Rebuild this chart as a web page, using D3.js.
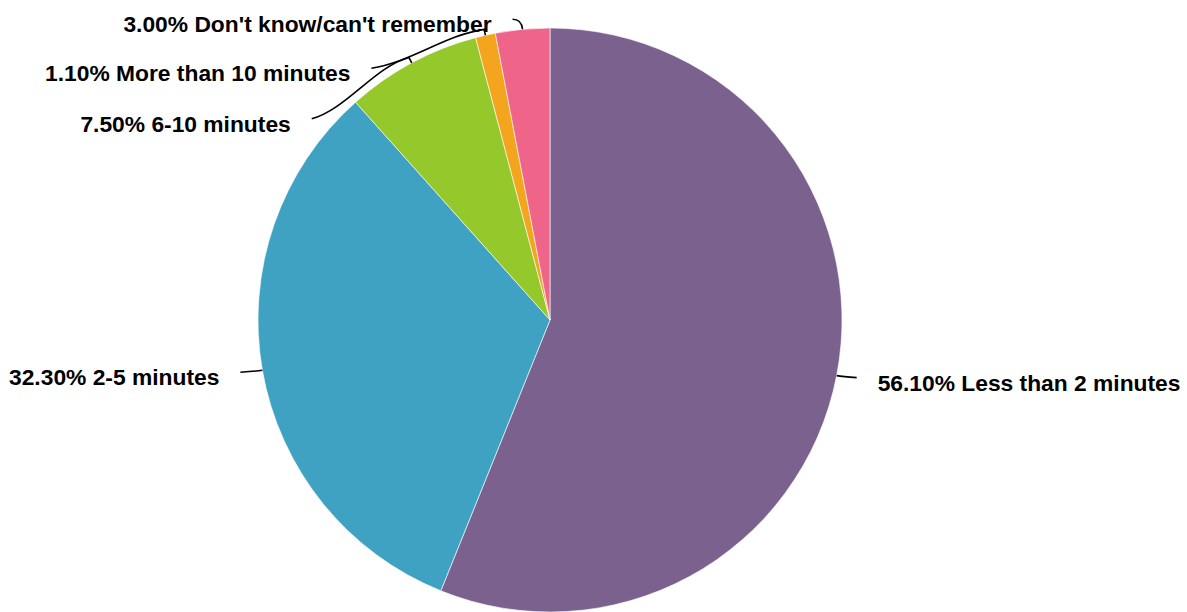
<!DOCTYPE html>
<html>
<head>
<meta charset="utf-8">
<script src="https://cdn.jsdelivr.net/npm/d3@7"></script>
<style>
  html, body { margin: 0; padding: 0; background: #fff; }
  svg { display: block; }
  .lbl { font-family: "Liberation Sans", Arial, sans-serif; font-weight: bold; font-size: 22.8px; fill: #000; }
</style>
</head>
<body>
<svg id="chart" width="1187" height="612"></svg>
<script>
// Time taken — share of respondents
const categories = ["Less than 2 minutes", "2-5 minutes", "6-10 minutes", "More than 10 minutes", "Don't know/can't remember"];
const values = [56.1, 32.3, 7.5, 1.1, 3.0];
const colors = ["#7b618d", "#40a2c2", "#95c82a", "#f3a51d", "#ef6589"];

// Where each leader line ends, relative to its slice's anchor on the rim
const labelOffsets = [[20, 2], [-22, 2], [-100, 56], [-114, 33], [-10, -10]];

const width = 1187, height = 612;
const cx = 550, cy = 320, radius = 292;

const svg = d3.select("#chart");
const g = svg.append("g").attr("transform", `translate(${cx},${cy})`);

const pie = d3.pie().sort(null).value(d => d.value);
const arcs = pie(categories.map((c, i) => ({ name: c, value: values[i], color: colors[i] })));
const arc = d3.arc().innerRadius(0).outerRadius(radius);

g.selectAll("path.slice")
  .data(arcs)
  .join("path")
  .attr("class", "slice")
  .attr("d", arc)
  .attr("fill", d => d.data.color)
  .attr("stroke", "#fff")
  .attr("stroke-width", 0.6);

// Leader lines: short radial tick off the rim, then a smooth curve to the label
function polar(a, r) { return [r * Math.sin(a), -r * Math.cos(a)]; }

arcs.forEach((d, i) => {
  const mid = (d.startAngle + d.endAngle) / 2;
  const A = polar(mid, radius);
  const B = polar(mid, radius + 6);
  const L = [A[0] + labelOffsets[i][0], A[1] + labelOffsets[i][1]];
  const p = d3.path();
  p.moveTo(A[0], A[1]);
  const dist = Math.hypot(L[0] - A[0], L[1] - A[1]);
  if (dist > 40) {
    p.lineTo(B[0], B[1]);
    p.bezierCurveTo(
      B[0] + (L[0] - B[0]) * 0.35, B[1] + (L[1] - B[1]) * 0.15,
      L[0] - (L[0] - B[0]) * 0.35, L[1] - (L[1] - B[1]) * 0.15,
      L[0], L[1]);
  } else if (Math.abs(L[1] - A[1]) > 6) {
    // hooked tick: up off the rim, then turning over to the label
    const C = polar(mid, radius + 10);
    p.quadraticCurveTo(C[0], C[1], L[0], L[1]);
  } else {
    p.quadraticCurveTo(B[0], B[1], L[0], L[1]);
  }
  g.append("path")
    .attr("d", p.toString())
    .attr("fill", "none")
    .attr("stroke", "#000")
    .attr("stroke-width", 1.6);

  const right = L[0] > A[0];
  g.append("text")
    .attr("class", "lbl")
    .attr("x", L[0] + (right ? 21 : -21))
    .attr("y", L[1] + 13)
    .attr("text-anchor", right ? "start" : "end")
    .text(d.data.value.toFixed(2) + "% " + d.data.name);
});
</script>
</body>
</html>
